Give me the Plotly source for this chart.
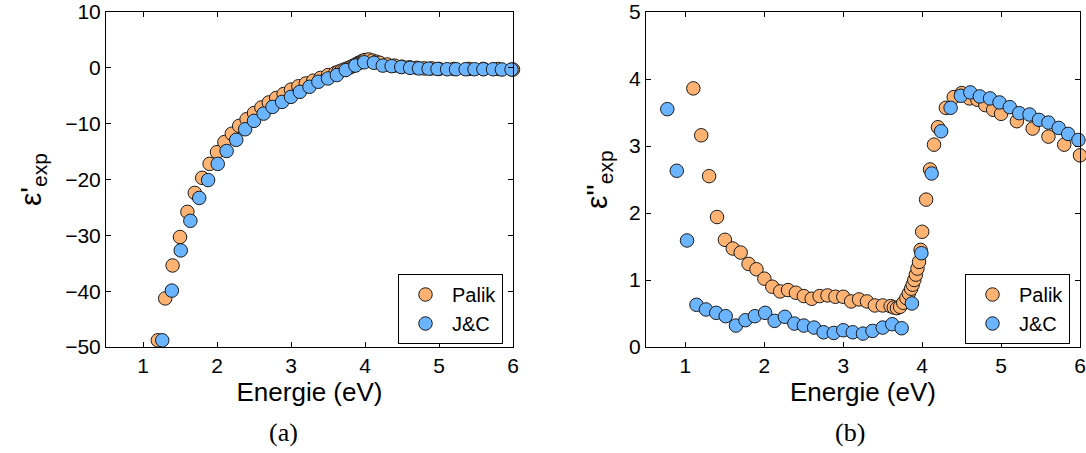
import plotly.graph_objects as go

# ---- data ----
palik_E = [1.10, 1.20, 1.30, 1.40, 1.50, 1.60, 1.70, 1.80, 1.90, 2.00, 2.10, 2.20, 2.30, 2.40,
           2.50, 2.60, 2.70, 2.80, 2.90, 3.00, 3.10, 3.20, 3.30, 3.40, 3.50, 3.60,
           3.64, 3.68, 3.72, 3.76, 3.80, 3.83, 3.86, 3.88, 3.90, 3.92, 3.94, 3.96, 3.98, 4.00,
           4.05, 4.10, 4.15, 4.20,
           4.30, 4.40, 4.50, 4.60, 4.70, 4.80, 4.90, 5.00,
           5.20, 5.40, 5.60, 5.80, 6.00]
palik_eps1 = [None, -48.8, -41.3, -35.4, -30.3, -25.8, -22.4, -19.7, -17.2, -15.1, -13.3, -11.8, -10.4, -9.2,
              -8.1, -7.1, -6.2, -5.4, -4.7, -3.9, -3.3, -2.8, -2.3, -1.8, -1.3, -0.9,
              -0.7, -0.5, -0.3, -0.1, 0.1, 0.3, 0.5, 0.6, 0.8, 0.9, 1.0, 1.2, 1.3, 1.4,
              1.5, 1.3, 1.1, 0.9,
              0.6, 0.4, 0.2, 0.1, 0.0, -0.1, -0.1, -0.2,
              -0.2, -0.2, -0.2, -0.2, -0.3]
palik_eps2 = [3.86, 3.16, 2.55, 1.94, 1.60, 1.47, 1.41, 1.24, 1.16, 1.02, 0.90, 0.83, 0.85, 0.81,
              0.76, 0.72, 0.76, 0.77, 0.75, 0.75, 0.68, 0.71, 0.68, 0.62, 0.62, 0.61,
              0.59, 0.58, 0.60, 0.66, 0.73, 0.80, 0.87, 0.93, 1.00, 1.08, 1.17, 1.27, 1.45, 1.72,
              2.20, 2.65, 3.02, 3.28,
              3.57, 3.73, 3.79, 3.71, 3.69, 3.61, 3.54, 3.48,
              3.37, 3.26, 3.14, 3.02, 2.86]

jc_E = [0.77, 0.89, 1.02, 1.14, 1.26, 1.39, 1.51, 1.64, 1.76, 1.88, 2.01, 2.13, 2.26, 2.38,
        2.50, 2.63, 2.75, 2.88, 3.00, 3.12, 3.25, 3.37, 3.50, 3.62, 3.74, 3.87, 3.99, 4.12,
        4.24, 4.36, 4.49, 4.61, 4.73, 4.86, 4.98, 5.11, 5.23, 5.36, 5.48, 5.60, 5.73, 5.85, 5.98]
jc_eps1 = [None, None, None, None, -48.8, -39.9, -32.7, -27.4, -23.3, -20.1, -17.2, -14.9, -12.9, -11.0,
           -9.5, -8.2, -7.0, -6.1, -5.2, -4.3, -3.4, -2.5, -1.9, -1.3, -0.4, 0.4, 1.0, 0.9,
           0.4, 0.3, 0.15, 0.0, -0.1, -0.15, -0.2, -0.25, -0.25, -0.25, -0.25, -0.25, -0.25, -0.3, -0.3]
jc_eps2 = [3.55, 2.63, 1.59, 0.63, 0.56, 0.51, 0.46, 0.32, 0.40, 0.46, 0.51, 0.39, 0.45, 0.35,
           0.32, 0.29, 0.22, 0.21, 0.25, 0.22, 0.20, 0.24, 0.29, 0.34, 0.28, 0.65, 1.40, 2.59,
           3.22, 3.57, 3.75, 3.80, 3.74, 3.71, 3.65, 3.58, 3.49, 3.47, 3.39, 3.35, 3.27, 3.18, 3.09]

series_names = ["Palik", "J&C"]
x_ticks = [1, 2, 3, 4, 5, 6]
y1_ticks = [-50, -40, -30, -20, -10, 0, 10]
y2_ticks = [0, 1, 2, 3, 4, 5]

ORANGE = "#FFB373"
BLUE = "#6BB4FF"
EDGE = "#1a1a1a"
FONT = "Liberation Sans, Arial, Helvetica, sans-serif"
SERIF = "Liberation Serif, DejaVu Serif, serif"

W, H = 1086, 453


def px(x):
    return x / W


def py(y):
    return (H - y) / H


def mk(color):
    return dict(size=13.5, color=color, line=dict(color=EDGE, width=1))


fig = go.Figure()
fig.add_trace(go.Scatter(x=palik_E, y=palik_eps1, mode="markers", name=series_names[0],
                         marker=mk(ORANGE), xaxis="x", yaxis="y", legend="legend",
                         cliponaxis=False))
fig.add_trace(go.Scatter(x=jc_E, y=jc_eps1, mode="markers", name=series_names[1],
                         marker=mk(BLUE), xaxis="x", yaxis="y", legend="legend",
                         cliponaxis=False))
fig.add_trace(go.Scatter(x=palik_E, y=palik_eps2, mode="markers", name=series_names[0],
                         marker=mk(ORANGE), xaxis="x2", yaxis="y2", legend="legend2",
                         cliponaxis=False))
fig.add_trace(go.Scatter(x=jc_E, y=jc_eps2, mode="markers", name=series_names[1],
                         marker=mk(BLUE), xaxis="x2", yaxis="y2", legend="legend2",
                         cliponaxis=False))

ax_common = dict(showline=True, linecolor="black", linewidth=1, mirror="ticks",
                 ticks="inside", ticklen=5, tickwidth=1, tickcolor="black",
                 showgrid=False, zeroline=False, automargin=False,
                 ticklabeloverflow="allow",
                 tickfont=dict(family=FONT, size=21, color="black"))

ydom = [py(347), py(12)]
xtitle = dict(text="Energie (eV)", font=dict(family=FONT, size=26), standoff=2)
legfont = dict(family=FONT, size=20, color="black")

fig.update_layout(
    width=W, height=H,
    margin=dict(l=0, r=0, t=0, b=0, autoexpand=False),
    paper_bgcolor="white", plot_bgcolor="white",
    font=dict(family=FONT, color="black"),
    xaxis=dict(domain=[px(106), px(513)], range=[0.5, 6], tickvals=x_ticks, anchor="y",
               title=xtitle, **ax_common),
    yaxis=dict(domain=ydom, range=[-50, 10], tickvals=y1_ticks, anchor="x", **ax_common),
    xaxis2=dict(domain=[px(646), px(1080)], range=[0.5, 6], tickvals=x_ticks, anchor="y2",
                title=xtitle, **ax_common),
    yaxis2=dict(domain=ydom, range=[0, 5], tickvals=y2_ticks, anchor="x2", **ax_common),
    legend=dict(x=px(398), y=py(274), xanchor="left", yanchor="top",
                bordercolor="black", borderwidth=1, bgcolor="white",
                itemwidth=43, font=legfont),
    legend2=dict(x=px(965), y=py(274), xanchor="left", yanchor="top",
                 bordercolor="black", borderwidth=1, bgcolor="white",
                 itemwidth=43, font=legfont),
    annotations=[
        dict(text="ε'<sub>exp</sub>", x=px(32), y=py(180), xref="paper", yref="paper",
             textangle=-90, showarrow=False, xanchor="center", yanchor="middle",
             font=dict(family=FONT, size=30, color="black")),
        dict(text="ε''<sub>exp</sub>", x=px(598), y=py(180), xref="paper", yref="paper",
             textangle=-90, showarrow=False, xanchor="center", yanchor="middle",
             font=dict(family=FONT, size=30, color="black")),
        dict(text="(a)", x=px(283), y=py(432), xref="paper", yref="paper",
             showarrow=False, xanchor="center", yanchor="middle",
             font=dict(family=SERIF, size=26, color="black")),
        dict(text="(b)", x=px(850), y=py(432), xref="paper", yref="paper",
             showarrow=False, xanchor="center", yanchor="middle",
             font=dict(family=SERIF, size=26, color="black")),
    ],
)

# remove the default 8px page margin so the figure sits at the window's corner
fig.write_html("out.html",
               config={"displayModeBar": False},
               post_script="document.body.style.margin='0px';document.body.style.overflow='hidden';")
